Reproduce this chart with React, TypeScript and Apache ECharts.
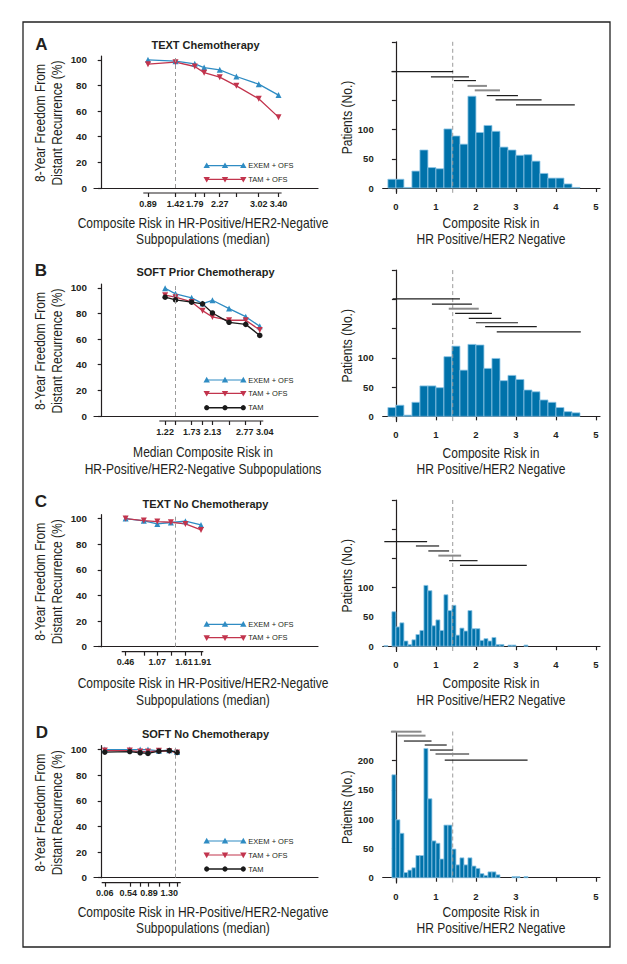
import React, { useEffect, useRef } from "react";
import * as echarts from "echarts";

// ---------------- data ----------------
const seriesNames = ["EXEM + OFS", "TAM + OFS", "TAM"];
const panelLetters = ["A", "B", "C", "D"];
const panelTitles = ["TEXT Chemotherapy", "SOFT Prior Chemotherapy", "TEXT No Chemotherapy", "SOFT No Chemotherapy"];
const leftXNames = [
  "Composite Risk in HR-Positive/HER2-Negative\nSubpopulations (median)",
  "Median Composite Risk in\nHR-Positive/HER2-Negative Subpopulations",
  "Composite Risk in HR-Positive/HER2-Negative\nSubpopulations (median)",
  "Composite Risk in HR-Positive/HER2-Negative\nSubpopulations (median)",
];
const leftYName = "8-Year Freedom From\nDistant Recurrence (%)";
const rightXName = "Composite Risk in\nHR Positive/HER2 Negative";
const rightYName = "Patients (No.)";

const yTicksLeft = [0, 20, 40, 60, 80, 100];
const yTicksRight = [0, 50, 100, 150, 200, 250];
const yLabelsRightABC = [0, 50, 100];
const yLabelsRightD = [0, 50, 100, 150, 200];
const xTicksRight = [0, 1, 2, 3, 4, 5];
const xLabelsRightABC = [0, 1, 2, 3, 4, 5];
const xLabelsRightD = [0, 1, 2, 3, 5];
const cutoffRisk = 1.42;

// Panel A: TEXT Chemotherapy
const aRisk = [0.89, 1.42, 1.79, 1.97, 2.27, 2.59, 3.02, 3.4];
const aTickLabels = ["0.89", "1.42", "1.79", "", "2.27", "", "3.02", "3.40"];
const aExem = [100, 99, 96.9, 94, 92.2, 87, 81, 72.5];
const aTamOfs = [96.6, 98.2, 94.8, 90, 86.5, 79.7, 69.6, 55.3];
const aHistStart = -0.2;
const aHistWidth = 0.2;
const aHist = [15, 15, 1, 29, 65, 35, 33, 101, 89, 75, 157, 95, 107, 97, 70, 65, 56, 57, 46, 25, 17, 17, 7, 1];
const aRanges = [[-0.11, 1.43], [0.875, 1.825], [1.45, 2.0], [1.79, 2.275], [1.97, 2.6], [2.27, 3.05], [2.49, 3.64], [3.0, 4.47]];
const aRangeLevels = [199, 190, 183.7, 174.6, 167, 158, 150.7, 142];
const aRangeGray = [0, 0, 0, 1, 1, 0, 0, 0];

// Panel B: SOFT Prior Chemotherapy
const bRisk = [1.22, 1.42, 1.73, 1.94, 2.13, 2.45, 2.77, 3.04];
const bTickLabels = ["1.22", "", "1.73", "", "2.13", "", "2.77", "3.04"];
const bExem = [99.7, 95.3, 92.2, 87.7, 90.3, 83.8, 77.5, 70];
const bTamOfs = [94.3, 92.7, 89, 82.2, 77.3, 74.7, 74.7, 67.1];
const bTam = [92.7, 90.6, 88.8, 87.5, 80.4, 73.1, 71.5, 62.9];
const bHistStart = -0.2;
const bHistWidth = 0.2;
const bHist = [15, 19, 2, 24, 52, 52, 49, 102, 120, 79, 123, 122, 82, 99, 61, 70, 63, 45, 42, 28, 24, 15, 8, 6];
const bRanges = [[-0.08, 1.6], [0.9, 1.9], [1.32, 2.07], [1.48, 2.4], [1.82, 2.63], [2.0, 3.05], [2.23, 3.52], [2.52, 4.62]];
const bRangeLevels = [200.7, 192, 184, 176, 167.6, 160, 153.5, 144.4];
const bRangeGray = [0, 0, 1, 0, 0, 0, 0, 0];

// Panel C: TEXT No Chemotherapy
const cRisk = [0.46, 0.81, 1.07, 1.33, 1.61, 1.91];
const cTickLabels = ["0.46", "", "1.07", "", "1.61", "1.91"];
const cExem = [100, 98.2, 95.8, 96.9, 97.9, 95];
const cTamOfs = [100, 98.4, 97.6, 97.1, 95.8, 91.1];
const cHistStart = -0.3;
const cHistWidth = 0.1;
const cHist = [1, 0, 59, 33, 40, 9, 3, 11, 20, 27, 104, 95, 35, 45, 27, 88, 61, 70, 19, 31, 26, 61, 30, 30, 10, 13, 9, 15, 3, 3, 0, 2, 2, 0, 0, 2];
const cRanges = [[-0.29, 0.78], [0.5, 1.08], [0.81, 1.33], [1.06, 1.63], [1.33, 2.04], [1.6, 3.27]];
const cRangeLevels = [178.9, 171.4, 162.9, 154.9, 146.3, 138.3];
const cRangeGray = [0, 0, 0, 1, 0, 0];

// Panel D: SOFT No Chemotherapy
const dRisk = [0.06, 0.54, 0.74, 0.89, 1.1, 1.3, 1.45];
const dTickLabels = ["0.06", "0.54", "", "0.89", "", "1.30", ""];
const dExem = [100, 100, 100, 100, 99, 99.5, 98];
const dTamOfs = [99.2, 99.2, 98.4, 98.4, 99, 98.7, 97.7];
const dTam = [98, 98.4, 97.5, 97, 98.7, 99.2, 97.7];
const dHistStart = -0.1;
const dHistWidth = 0.1;
const dHist = [176, 99, 76, 9, 13, 17, 38, 38, 221, 135, 63, 59, 32, 90, 90, 49, 22, 34, 22, 34, 20, 16, 7, 4, 10, 10, 5, 0, 0, 0, 2, 2, 0, 2];
const dRanges = [[-0.125, 0.64], [0.04, 0.74], [0.2, 0.89], [0.72, 1.27], [0.85, 1.43], [0.99, 1.83], [1.22, 3.29]];
const dRangeLevels = [249.7, 242.9, 233.7, 226.9, 218.3, 211.4, 201];
const dRangeGray = [1, 1, 0, 0, 0, 1, 0];

// ---------------- assembled panels ----------------
const panels = [
  { risk: aRisk, labels: aTickLabels, exem: aExem, tamOfs: aTamOfs, tam: null as number[] | null, hist: aHist, hs: aHistStart, hw: aHistWidth, ranges: aRanges, levels: aRangeLevels, gray: aRangeGray, yLab: yLabelsRightABC, xLab: xLabelsRightABC },
  { risk: bRisk, labels: bTickLabels, exem: bExem, tamOfs: bTamOfs, tam: bTam, hist: bHist, hs: bHistStart, hw: bHistWidth, ranges: bRanges, levels: bRangeLevels, gray: bRangeGray, yLab: yLabelsRightABC, xLab: xLabelsRightABC },
  { risk: cRisk, labels: cTickLabels, exem: cExem, tamOfs: cTamOfs, tam: null as number[] | null, hist: cHist, hs: cHistStart, hw: cHistWidth, ranges: cRanges, levels: cRangeLevels, gray: cRangeGray, yLab: yLabelsRightABC, xLab: xLabelsRightABC },
  { risk: dRisk, labels: dTickLabels, exem: dExem, tamOfs: dTamOfs, tam: dTam, hist: dHist, hs: dHistStart, hw: dHistWidth, ranges: dRanges, levels: dRangeLevels, gray: dRangeGray, yLab: yLabelsRightD, xLab: xLabelsRightD },
];

// ---------------- layout & style ----------------
const SANS = "'Liberation Sans', Arial, sans-serif";
const TXT = "#231f20";
const AX = "#231f20";
const BLUE = "#2f8cc3";
const RED = "#c2344d";
const BLACK = "#1a1a1a";
const BAR = "#0072aa";
const BAR_EDGE = "#8ec5e6";
const NAME_SIZE = 14;
const NAME_SCALE = 0.86;
const TICK_SIZE = 9.5;
const RISK_TICK_SIZE = 9;

const LAYOUT = {
  leftGridLeft: 94,
  leftGridWidth: 224,
  leftX: [-0.148, 4.16],
  leftYMax: 103,
  leftBottom: [188, 416, 646.7, 877.7],
  leftHeight: 132,
  rightGridLeft: 382.7,
  rightGridWidth: 217.3,
  rightX: [-0.33, 5.1],
  rightY: [-9, 250],
  rightBottom: [193.3, 421.6, 651.5, 883],
  rightHeight: 151.5,
  tickSeg: [[0.8, 3.46], [1.108, 3.108], [0.385, 1.954], [0, 1.52]],
  // horizontal nudge (px) of each risk tick label, per panel and tick index
  labelShift: [
    [0, 0, 0, 0, 0, 0, 0, 0],
    [0, 0, 0, 0, 0, 0, -1, 5],
    [0, 0, 0, 0, -1.5, 1.5],
    [0, -1.5, 0, 1, 0, 0, 0],
  ],
  leftXNameY: [231, 460.5, 691.6, 920.2],
  rightXNameY: [231, 461, 691.6, 920],
  leftXNameX: 203,
  rightXNameX: 491,
  leftYNameX: 48.7,
  rightYNameX: 346.7,
  nameLine: 16.6,
  titleY: [45, 272.3, 504, 734],
  letterPos: [[41.5, 44], [41, 270.5], [41, 501], [42, 732]],
  legendRows: [[165.7, 179.3], [380, 393.3, 407.7], [624.3, 637.7], [841, 855, 869]],
  legendX: [206.7, 243.3, 248.3],
};

const AXES_PER_PANEL = 4; // frame, ticks + labels, more labels, histogram

function nearestIndex(arr: number[], v: number) {
  let best = 0;
  arr.forEach((r, k) => { if (Math.abs(r - v) < Math.abs(arr[best] - v)) best = k; });
  return best;
}

function buildOption() {
  const grid: any[] = [];
  const xAxis: any[] = [];
  const yAxis: any[] = [];
  const series: any[] = [];
  const title: any[] = [];

  panels.forEach((p, i) => {
    const lb = LAYOUT.leftBottom[i];
    const rb = LAYOUT.rightBottom[i];
    grid.push({ left: LAYOUT.leftGridLeft, width: LAYOUT.leftGridWidth, top: lb - LAYOUT.leftHeight, height: LAYOUT.leftHeight });
    grid.push({ left: LAYOUT.rightGridLeft, width: LAYOUT.rightGridWidth, top: rb - LAYOUT.rightHeight, height: LAYOUT.rightHeight });

    title.push({
      text: panelTitles[i],
      left: 205.5,
      top: LAYOUT.titleY[i],
      textAlign: "center",
      textVerticalAlign: "middle",
      padding: 0,
      textStyle: { fontFamily: SANS, fontWeight: "bold", fontSize: 11, color: TXT },
    });

    const labelled = p.risk.filter((_, k) => p.labels[k] !== "");
    const labelsOdd = labelled.filter((_, k) => k % 2 === 0);
    const labelsEven = labelled.filter((_, k) => k % 2 === 1);
    const shifts = LAYOUT.labelShift[i];
    const rich: any = {};
    p.risk.forEach((_, k) => {
      const s = shifts[k] || 0;
      rich["t" + k] = {
        fontFamily: SANS, fontWeight: "bold", fontSize: RISK_TICK_SIZE, color: TXT,
        padding: [0, s < 0 ? -2 * s : 0, 0, s > 0 ? 2 * s : 0],
      };
    });
    const labelStyle = {
      show: true, margin: 6, hideOverlap: false, showMinLabel: true, showMaxLabel: true,
      formatter: (v: number) => {
        const k = nearestIndex(p.risk, v);
        return "{t" + k + "|" + p.labels[k] + "}";
      },
      rich,
      fontFamily: SANS, fontWeight: "bold", fontSize: RISK_TICK_SIZE, color: TXT,
    };

    xAxis.push({
      gridIndex: 2 * i, type: "value", position: "bottom",
      min: LAYOUT.leftX[0], max: LAYOUT.leftX[1],
      axisLine: { show: true, lineStyle: { color: AX, width: 1.2 } },
      axisTick: { show: false }, axisLabel: { show: false }, splitLine: { show: false },
    });
    xAxis.push({
      gridIndex: 2 * i, type: "value", position: "bottom", offset: 5,
      min: LAYOUT.leftX[0], max: LAYOUT.leftX[1],
      axisLine: { show: false },
      axisTick: { show: true, customValues: p.risk, length: 4, lineStyle: { color: AX, width: 1.2 } },
      axisLabel: { ...labelStyle, customValues: labelsOdd },
      splitLine: { show: false },
    });
    xAxis.push({
      gridIndex: 2 * i, type: "value", position: "bottom", offset: 5,
      min: LAYOUT.leftX[0], max: LAYOUT.leftX[1],
      axisLine: { show: false }, axisTick: { show: false },
      axisLabel: { ...labelStyle, customValues: labelsEven },
      splitLine: { show: false },
    });
    xAxis.push({
      gridIndex: 2 * i + 1, type: "value", position: "bottom",
      min: LAYOUT.rightX[0], max: LAYOUT.rightX[1],
      axisLine: { show: true, lineStyle: { color: AX, width: 1.2 } },
      axisTick: { show: true, customValues: xTicksRight, length: 4, lineStyle: { color: AX, width: 1.2 } },
      axisLabel: { show: true, customValues: p.xLab, margin: 8, hideOverlap: false, showMinLabel: true, showMaxLabel: true, fontFamily: SANS, fontWeight: "bold", fontSize: TICK_SIZE, color: TXT },
      splitLine: { show: false },
    });

    yAxis.push({
      gridIndex: 2 * i, type: "value", min: 0, max: LAYOUT.leftYMax,
      axisLine: { show: true, lineStyle: { color: AX, width: 1.2 } },
      axisTick: { show: true, customValues: yTicksLeft, length: 4, lineStyle: { color: AX, width: 1.2 } },
      axisLabel: { show: true, customValues: yTicksLeft, margin: 7, hideOverlap: false, showMinLabel: true, showMaxLabel: true, fontFamily: SANS, fontWeight: "bold", fontSize: 9.8, color: TXT },
      splitLine: { show: false },
    });
    yAxis.push({
      gridIndex: 2 * i + 1, type: "value", min: LAYOUT.rightY[0], max: LAYOUT.rightY[1],
      axisLine: { show: true, lineStyle: { color: AX, width: 1.2 } },
      axisTick: { show: true, customValues: yTicksRight, length: 4, lineStyle: { color: AX, width: 1.2 } },
      axisLabel: { show: true, customValues: p.yLab, margin: 9, hideOverlap: false, showMinLabel: true, showMaxLabel: true, fontFamily: SANS, fontWeight: "bold", fontSize: TICK_SIZE, color: TXT },
      splitLine: { show: false },
    });

    const xl = AXES_PER_PANEL * i;
    series.push({
      type: "line", name: seriesNames[0], xAxisIndex: xl, yAxisIndex: 2 * i,
      data: p.risk.map((r, k) => [r, p.exem[k]]),
      symbol: "triangle", symbolSize: 6,
      lineStyle: { color: BLUE, width: 1.3 }, itemStyle: { color: BLUE },
      markLine: {
        silent: true, symbol: ["none", "none"], label: { show: false },
        lineStyle: { color: "#9a9a9a", type: [4, 3], width: 1 },
        data: [{ xAxis: cutoffRisk }],
      },
      z: 3,
    });
    series.push({
      type: "line", name: seriesNames[1], xAxisIndex: xl, yAxisIndex: 2 * i,
      data: p.risk.map((r, k) => [r, p.tamOfs[k]]),
      symbol: "triangle", symbolRotate: 180, symbolSize: 6,
      lineStyle: { color: RED, width: 1.3 }, itemStyle: { color: RED }, z: 3,
    });
    if (p.tam) {
      const tam = p.tam;
      series.push({
        type: "line", name: seriesNames[2], xAxisIndex: xl, yAxisIndex: 2 * i,
        data: p.risk.map((r, k) => [r, tam[k]]),
        symbol: "circle", symbolSize: 5.5,
        lineStyle: { color: BLACK, width: 1.3 }, itemStyle: { color: BLACK }, z: 3,
      });
    }

    const xr = AXES_PER_PANEL * i + 3;
    const yr = 2 * i + 1;
    series.push({
      type: "custom", xAxisIndex: xr, yAxisIndex: yr,
      data: p.hist.map((c, k) => [p.hs + k * p.hw, p.hs + (k + 1) * p.hw, c]),
      encode: { x: [0, 1], y: 2 },
      renderItem: (_params: any, api: any) => {
        const c = api.value(2);
        if (!c) return { type: "group", children: [] };
        const tl = api.coord([api.value(0), c]);
        const br = api.coord([api.value(1), 0]);
        return {
          type: "rect",
          shape: { x: tl[0], y: tl[1], width: br[0] - tl[0], height: br[1] - tl[1] },
          style: { fill: BAR, stroke: BAR_EDGE, lineWidth: 0.8 },
        };
      },
      z: 2,
    });
    series.push({
      type: "custom", xAxisIndex: xr, yAxisIndex: yr,
      data: [[cutoffRisk]],
      encode: { x: 0 },
      renderItem: (_params: any, api: any) => {
        const a = api.coord([api.value(0), LAYOUT.rightY[1]]);
        const b = api.coord([api.value(0), LAYOUT.rightY[0]]);
        return {
          type: "line",
          shape: { x1: a[0], y1: a[1], x2: b[0], y2: b[1] },
          style: { stroke: "#9a9a9a", lineWidth: 1, lineDash: [4, 3] },
        };
      },
      z: 4,
    });
    series.push({
      type: "custom", xAxisIndex: xr, yAxisIndex: yr,
      data: p.ranges.map((r, k) => [r[0], r[1], p.levels[k], p.gray[k]]),
      encode: { x: [0, 1], y: 2 },
      renderItem: (_params: any, api: any) => {
        const s = api.coord([api.value(0), api.value(2)]);
        const e = api.coord([api.value(1), api.value(2)]);
        const g = api.value(3) === 1;
        return {
          type: "line",
          shape: { x1: s[0], y1: s[1], x2: e[0], y2: e[1] },
          style: { stroke: g ? "#8a8a8a" : "#1e1e1e", lineWidth: g ? 2 : 1.2 },
        };
      },
      z: 5,
    });
  });

  return { animation: false, backgroundColor: "#fff", title, grid, xAxis, yAxis, series };
}

function tri(cx: number, cy: number, up: boolean, color: string) {
  const pts = up
    ? [[cx, cy - 3.2], [cx + 3.2, cy + 2.4], [cx - 3.2, cy + 2.4]]
    : [[cx, cy + 3.2], [cx + 3.2, cy - 2.4], [cx - 3.2, cy - 2.4]];
  return { type: "polygon", shape: { points: pts }, style: { fill: color }, silent: true };
}

function nameText(text: string, x: number, y: number, vertical: boolean) {
  return {
    type: "text", x, y,
    rotation: vertical ? Math.PI / 2 : 0,
    scaleX: NAME_SCALE,
    style: {
      text, fontFamily: SANS, fontSize: NAME_SIZE, lineHeight: LAYOUT.nameLine,
      fill: TXT, align: "center", verticalAlign: "middle",
    },
    silent: true,
  };
}

function buildGraphic(chart: any) {
  const g: any[] = [];
  g.push({ type: "rect", shape: { x: 23, y: 22, width: 587, height: 925 }, style: { fill: "none", stroke: "#222", lineWidth: 1.3 }, silent: true });
  panels.forEach((p, i) => {
    const [lx, ly] = LAYOUT.letterPos[i];
    g.push({
      type: "text", x: lx, y: ly,
      style: { text: panelLetters[i], fontFamily: SANS, fontWeight: "bold", fontSize: 17, fill: TXT, align: "center", verticalAlign: "middle" },
    });
    const lb = LAYOUT.leftBottom[i];
    const rb = LAYOUT.rightBottom[i];
    g.push(nameText(leftXNames[i], LAYOUT.leftXNameX, LAYOUT.leftXNameY[i], false));
    g.push(nameText(rightXName, LAYOUT.rightXNameX, LAYOUT.rightXNameY[i], false));
    g.push(nameText(leftYName, LAYOUT.leftYNameX, lb - LAYOUT.leftHeight / 2 + 1, true));
    g.push(nameText(rightYName, LAYOUT.rightYNameX, rb - LAYOUT.rightHeight / 2, true));
    const seg = LAYOUT.tickSeg[i];
    const x0 = chart.convertToPixel({ xAxisIndex: AXES_PER_PANEL * i + 1 }, seg[0]);
    const x1 = chart.convertToPixel({ xAxisIndex: AXES_PER_PANEL * i + 1 }, seg[1]);
    const yy = lb + 5;
    g.push({ type: "line", shape: { x1: x0, y1: yy, x2: x1, y2: yy }, style: { stroke: AX, lineWidth: 1.2 }, silent: true });
    const rows = LAYOUT.legendRows[i];
    const [a, b, tx] = LAYOUT.legendX;
    const colors = [BLUE, RED, BLACK];
    rows.forEach((ry, k) => {
      g.push({ type: "line", shape: { x1: a, y1: ry, x2: b, y2: ry }, style: { stroke: colors[k], lineWidth: k === 2 ? 1.6 : 1.2 }, silent: true });
      [a, (a + b) / 2, b].forEach((cx) => {
        if (k === 2) g.push({ type: "circle", shape: { cx, cy: ry, r: 2.6 }, style: { fill: BLACK }, silent: true });
        else g.push(tri(cx, ry, k === 0, colors[k]));
      });
      g.push({
        type: "text", x: tx, y: ry,
        style: { text: seriesNames[k], fontFamily: SANS, fontSize: 7.5, fill: TXT, align: "left", verticalAlign: "middle" },
      });
    });
  });
  return g;
}

export default function App() {
  const ref = useRef<HTMLDivElement>(null);
  useEffect(() => {
    const chart = echarts.init(ref.current!, null, { renderer: "svg" });
    chart.setOption(buildOption() as any);
    chart.setOption({ graphic: buildGraphic(chart) } as any);
    return () => chart.dispose();
  }, []);
  return (
    <div
      ref={ref}
      style={{ position: "absolute", left: 0, top: 0, width: 627, height: 964, background: "#fff" }}
    />
  );
}
